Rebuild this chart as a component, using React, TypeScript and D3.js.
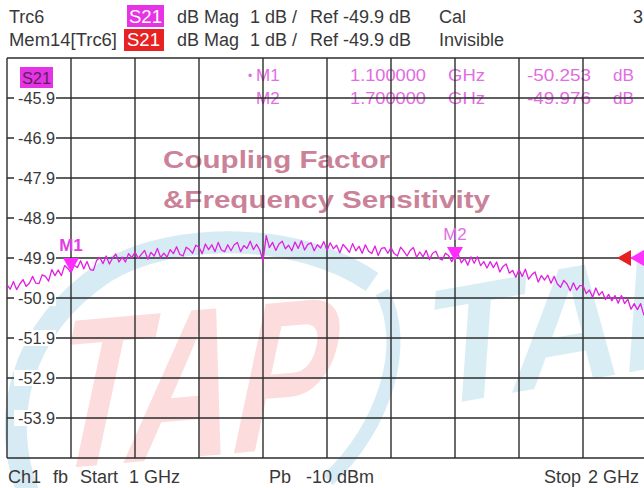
import React from 'react';
import * as d3 from 'd3';

const W = 644;
const H = 488;

// sweep + scale settings
const START_GHZ = 1;
const STOP_GHZ = 2;
const REF_DB = -49.9;
const TOP_DB = -44.9;
const BOTTOM_DB = -54.9;

const yTickLabels = [-45.9, -46.9, -47.9, -48.9, -49.9, -50.9, -51.9, -52.9, -53.9];

// S21 trace, 5 MHz steps from 1 GHz to 2 GHz
const traceDb = [
  -50.57, -50.68, -50.49, -50.69, -50.55, -50.44, -50.61, -50.53, -50.36, -50.53,
  -50.54, -50.32, -50.36, -50.48, -50.19, -50.34, -50.20, -50.34, -50.09, -50.16,
  -50.27, -50.08, -50.14, -49.97, -50.17, -49.99, -50.19, -50.21, -49.96, -49.89,
  -50.04, -49.85, -50.05, -49.90, -49.80, -50.00, -49.88, -50.00, -49.79, -49.89,
  -49.75, -49.91, -49.81, -49.71, -49.93, -49.76, -49.85, -49.66, -49.89, -49.78,
  -49.88, -49.69, -49.79, -49.62, -49.81, -49.85, -49.63, -49.69, -49.78, -49.58,
  -49.63, -49.79, -49.55, -49.69, -49.57, -49.74, -49.51, -49.70, -49.74, -49.57,
  -49.72, -49.57, -49.51, -49.74, -49.59, -49.66, -49.48, -49.69, -49.56, -49.70,
  -49.98, -49.34, -49.64, -49.51, -49.71, -49.55, -49.48, -49.67, -49.58, -49.72,
  -49.50, -49.66, -49.47, -49.70, -49.56, -49.52, -49.72, -49.57, -49.65, -49.49,
  -49.71, -49.52, -49.67, -49.58, -49.77, -49.56, -49.65, -49.76, -49.54, -49.72,
  -49.61, -49.78, -49.57, -49.73, -49.79, -49.60, -49.84, -49.66, -49.64, -49.78,
  -49.64, -49.79, -49.85, -49.63, -49.73, -49.85, -49.71, -49.64, -49.88, -49.75,
  -49.87, -49.71, -49.94, -49.78, -49.73, -49.91, -49.95, -49.78, -49.84, -49.99,
  -49.84, -49.81, -50.02, -49.91, -50.08, -49.87, -50.03, -49.87, -50.09, -49.99,
  -50.15, -49.99, -50.14, -50.00, -50.25, -50.11, -50.05, -50.28, -50.21, -50.38,
  -50.19, -50.36, -50.18, -50.43, -50.32, -50.25, -50.50, -50.34, -50.45, -50.33,
  -50.53, -50.36, -50.55, -50.63, -50.46, -50.55, -50.72, -50.52, -50.70, -50.59,
  -50.59, -50.79, -50.70, -50.88, -50.65, -50.83, -50.74, -50.94, -50.81, -50.97,
  -50.84, -51.03, -50.84, -51.04, -50.93, -51.18, -51.04, -51.19, -51.04, -51.32,
  -51.25,
];

const markerNames = ['M1', 'M2'];
const markerGhz = [1.1, 1.7];
const markerDb = [-50.253, -49.976];
const markerGhzText = ['1.100000', '1.700000'];
const markerDbText = ['-50.253', '-49.976'];

const FONT = "'Liberation Sans', Arial, sans-serif";
const GRID = '#2b2b2b';
const TXT = '#383838';
const MAG = '#e633e6';
const MARK_TXT = '#e26ce2';

const x = d3.scaleLinear().domain([START_GHZ, STOP_GHZ]).range([7, 647]);
const y = d3.scaleLinear().domain([BOTTOM_DB, TOP_DB]).range([458, 58]);

export default function App() {
  const step = (STOP_GHZ - START_GHZ) / (traceDb.length - 1);
  const line = d3.line<number>()
    .x((d, i) => x(START_GHZ + i * step))
    .y(d => y(d));

  const xGrid = d3.range(11).map(i => START_GHZ + i * 0.1);
  const yGrid = d3.range(11).map(i => BOTTOM_DB + i);
  const ry = y(REF_DB);

  return (
    <svg width={W} height={H} style={{ position: 'fixed', left: 0, top: 0, background: '#fff' }}
      fontFamily={FONT}>
      <defs>
        <clipPath id="plot">
          <rect x={7} y={58} width={640} height={400} />
        </clipPath>
      </defs>
      <rect width={W} height={H} fill="#fff" />

      {/* watermark */}
      <g opacity={0.85}>
        <path d="M 28 492 C 0 420, 18 330, 105 272 C 175 230, 300 232, 372 282"
          fill="none" stroke="#cfe8f2" strokeWidth={22} />
        <path d="M 382 292 C 410 345, 385 425, 328 480" fill="none" stroke="#cfe8f2" strokeWidth={14} />
        <text transform="translate(42,470) rotate(-5) skewX(-17)" fontSize={212} fontWeight="bold"
          fill="#fcd6d6" textLength={280} lengthAdjust="spacingAndGlyphs">TAP</text>
        <text transform="translate(426,408) rotate(-10) skewX(-14)" fontSize={165} fontWeight="bold"
          fill="#d3eaf3" textLength={300} lengthAdjust="spacingAndGlyphs">TAP</text>
      </g>

      {/* header */}
      <g fontSize={18} fill={TXT}>
        <text x={9} y={23}>Trc6</text>
        <rect x={127} y={5} width={37} height={22} fill={MAG} />
        <text x={129} y={23} fill="#fff" textLength={33} lengthAdjust="spacingAndGlyphs">S21</text>
        <text x={177} y={23}>dB Mag</text>
        <text x={250} y={23}>1 dB /</text>
        <text x={310} y={23}>Ref -49.9 dB</text>
        <text x={439} y={23}>Cal</text>
        <text x={633} y={23}>3</text>

        <text x={9} y={46} textLength={108} lengthAdjust="spacingAndGlyphs">Mem14[Trc6]</text>
        <rect x={124} y={29} width={40} height={22} fill="#e82222" />
        <text x={127} y={46} fill="#fff" textLength={33} lengthAdjust="spacingAndGlyphs">S21</text>
        <text x={177} y={46}>dB Mag</text>
        <text x={250} y={46}>1 dB /</text>
        <text x={310} y={46}>Ref -49.9 dB</text>
        <text x={439} y={46}>Invisible</text>
      </g>

      {/* title */}
      <g fontSize={23} fontWeight="bold" fill="#cb8299">
        <text x={163} y={168} textLength={227} lengthAdjust="spacingAndGlyphs">Coupling Factor</text>
        <text x={163} y={208} textLength={327} lengthAdjust="spacingAndGlyphs">&amp;Frequency Sensitivity</text>
      </g>

      {/* marker table */}
      <g fontSize={17} fill={MARK_TXT}>
        {markerNames.map((n, i) => {
          const by = 81 + i * 23;
          return (
            <g key={n}>
              {i === 0 && <text x={248} y={by - 1} fontSize={12}>•</text>}
              <text x={256} y={by}>{n}</text>
              <text x={350} y={by} textLength={76} lengthAdjust="spacingAndGlyphs">{markerGhzText[i]}</text>
              <text x={448} y={by} textLength={37} lengthAdjust="spacingAndGlyphs">GHz</text>
              <text x={527} y={by} textLength={64} lengthAdjust="spacingAndGlyphs">{markerDbText[i]}</text>
              <text x={613} y={by} textLength={21} lengthAdjust="spacingAndGlyphs">dB</text>
            </g>
          );
        })}
      </g>

      {/* grid */}
      <g stroke={GRID} strokeWidth={1.4}>
        {xGrid.map(g => (
          <line key={'x' + g} x1={x(g)} x2={x(g)} y1={y(TOP_DB)} y2={y(BOTTOM_DB)} />
        ))}
        {yGrid.map(g => (
          <line key={'y' + g} x1={x(START_GHZ)} x2={W} y1={y(g)} y2={y(g)} />
        ))}
      </g>

      {/* y labels */}
      <g fontSize={16} fill={TXT}>
        {yTickLabels.map(v => (
          <g key={v}>
            <rect x={14} y={y(v) - 8} width={42} height={16} fill="#fff" />
            <text x={18} y={y(v) + 6} textLength={37} lengthAdjust="spacingAndGlyphs">{v.toFixed(1)}</text>
          </g>
        ))}
      </g>

      <rect x={20} y={67} width={33} height={21} fill={MAG} />
      <text x={22} y={84} fontSize={17} fill="#5a245a" textLength={29} lengthAdjust="spacingAndGlyphs">S21</text>

      {/* trace */}
      <g clipPath="url(#plot)">
        <path d={line(traceDb) ?? ''} fill="none" stroke="#e21ee2" strokeWidth={1.3} strokeLinejoin="round" />
      </g>

      {/* markers */}
      {markerNames.map((n, i) => {
        const mx = x(markerGhz[i]);
        const my = y(markerDb[i]);
        return (
          <g key={n}>
            <path d={`M${mx - 8},${my - 14} L${mx + 8},${my - 14} L${mx},${my} Z`} fill="#ff2cff" />
            <text x={mx} y={my - 21} textAnchor="middle" fontSize={17}
              fontWeight={i === 0 ? 'bold' : 'normal'} fill={i === 0 ? '#e23de2' : MARK_TXT}>{n}</text>
          </g>
        );
      })}

      {/* reference level arrows */}
      <path d={`M617,${ry} L631,${ry - 8} L631,${ry + 8} Z`} fill="#e42020" />
      <path d={`M630,${ry} L644,${ry - 8} L644,${ry + 8} Z`} fill="#ff33ff" />

      {/* footer */}
      <g fontSize={18} fill={TXT}>
        <text x={8} y={483}>Ch1</text>
        <text x={53} y={483}>fb</text>
        <text x={80} y={483}>Start</text>
        <text x={129} y={483}>1 GHz</text>
        <text x={269} y={483}>Pb</text>
        <text x={306} y={483}>-10 dBm</text>
        <text x={544} y={483}>Stop</text>
        <text x={588} y={483}>2 GHz</text>
      </g>
    </svg>
  );
}
